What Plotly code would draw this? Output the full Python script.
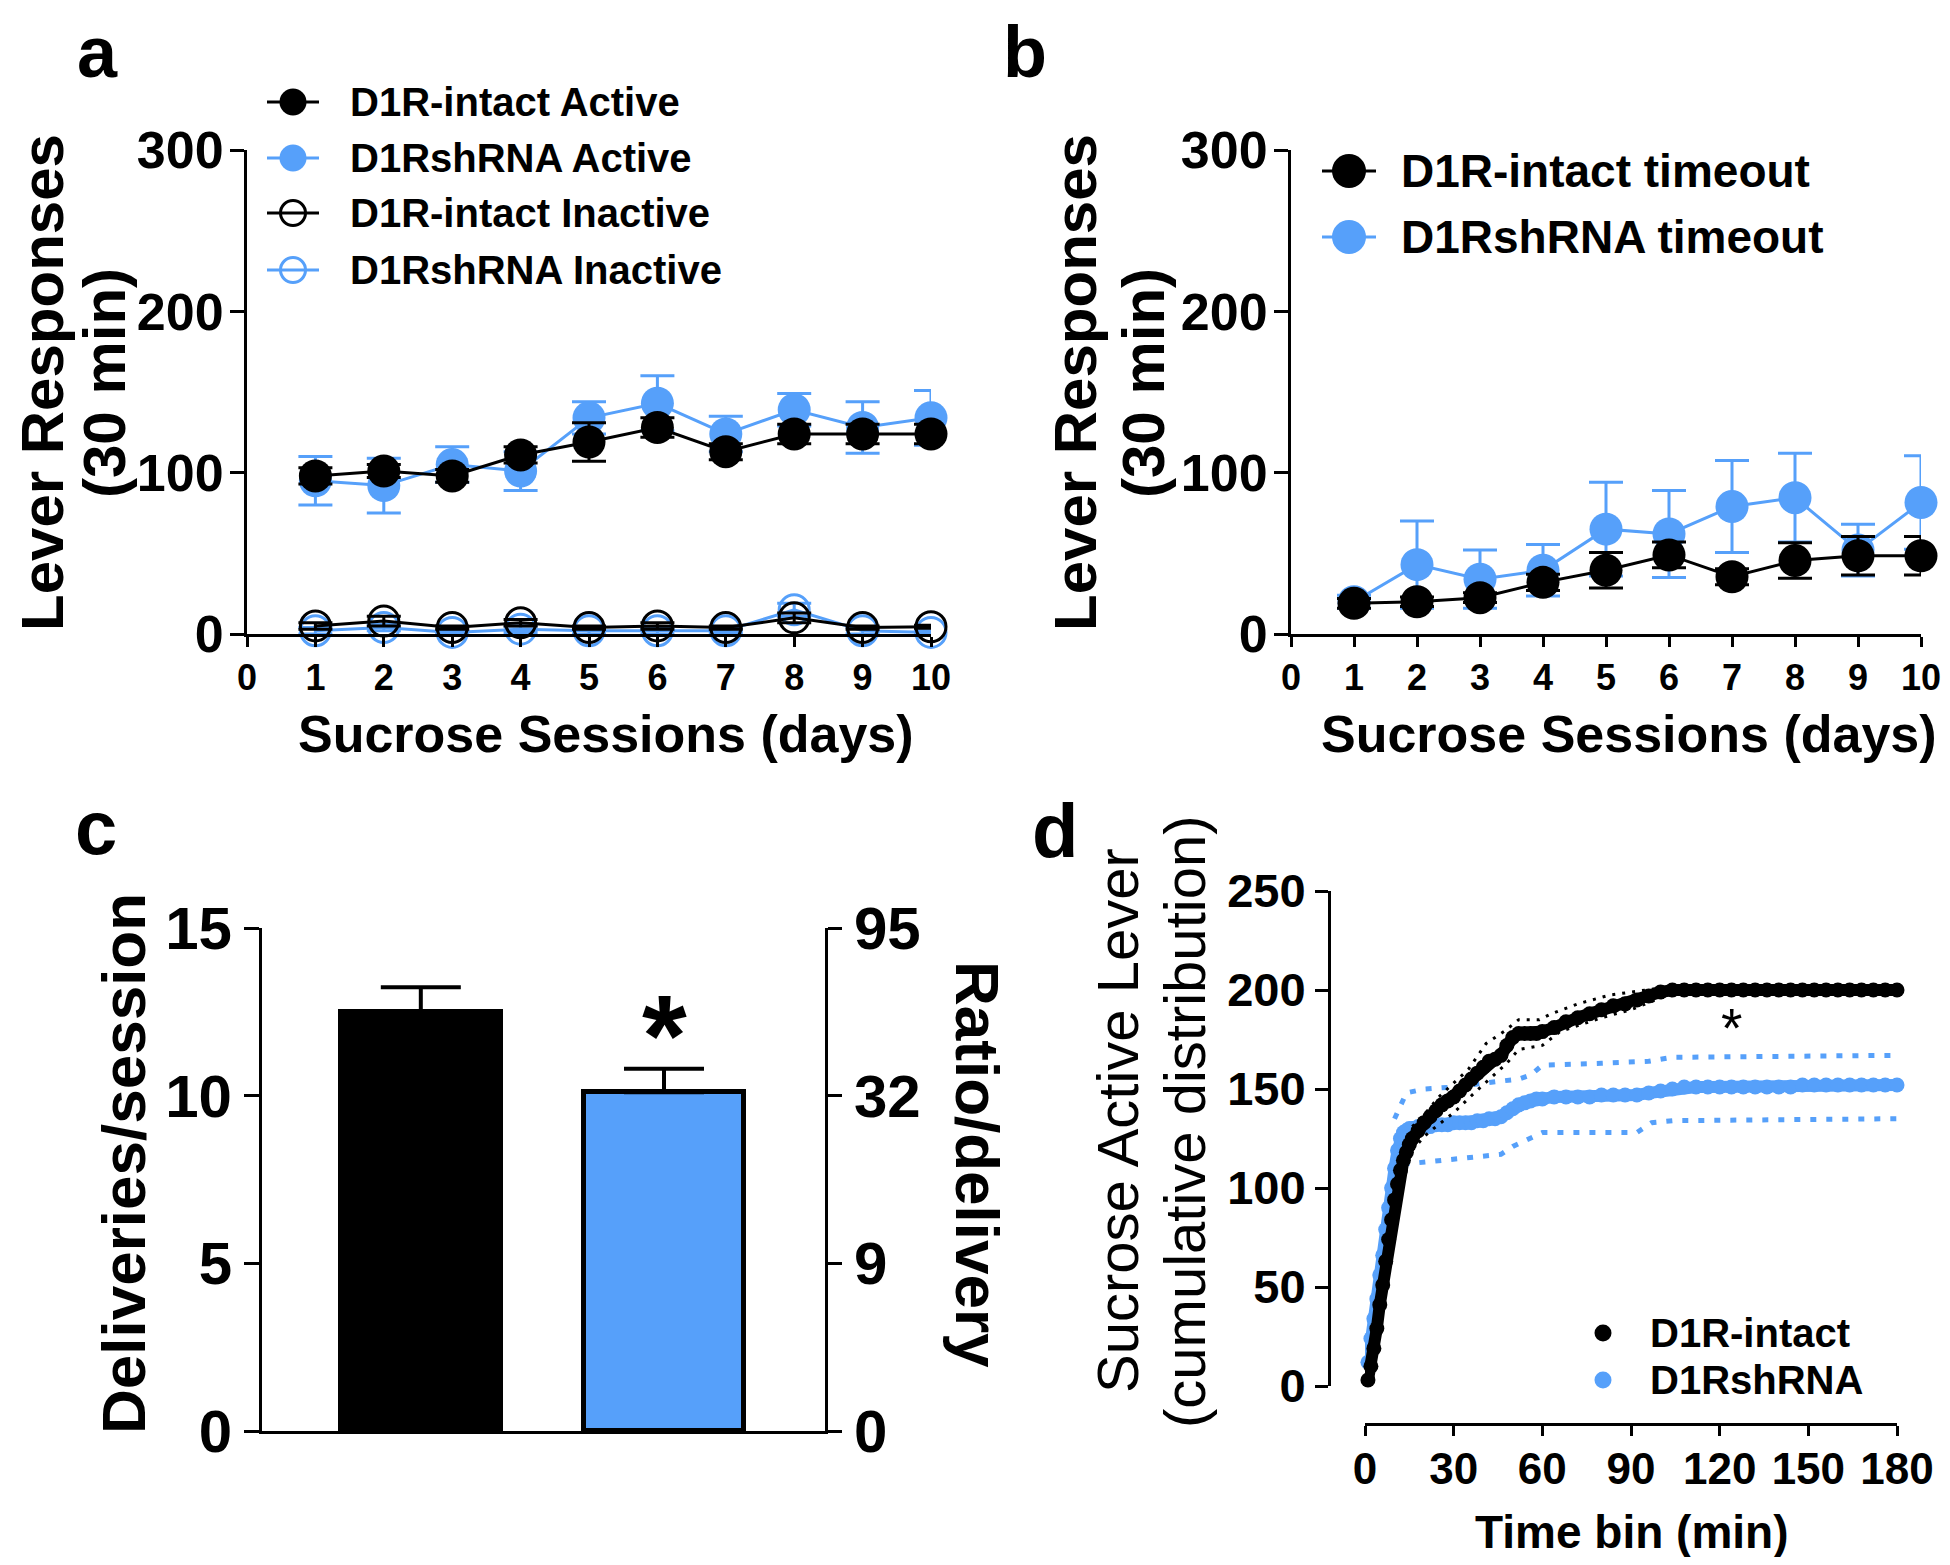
import plotly.graph_objects as go

PAGE_W, PAGE_H = 1950, 1565
OFF = 8  # the page body adds an 8px margin around the figure
W, H = PAGE_W - 2 * OFF, PAGE_H - 2 * OFF
BLUE = '#56A0FA'
FONT = 'Liberation Sans, Arial, sans-serif'

# ---- panel a: sucrose sessions, active / inactive lever presses
days = [1, 2, 3, 4, 5, 6, 7, 8, 9, 10]
intact_active = [98, 101, 98, 111, 119, 128, 113, 124, 124, 124]
intact_active_sem = [5, 4, 4, 5, 12, 6, 5, 6, 6, 6]
shrna_active = [95, 92, 105, 101, 134, 143, 124, 139, 128, 134]
shrna_active_sem = [15, 17, 11, 12, 10, 17, 11, 10, 16, 17]
intact_inactive = [5, 8, 4, 7, 4, 5, 4, 10, 4, 4.5]
intact_inactive_sem = [2, 3, 1, 2, 1, 2, 1, 3, 1, 1]
shrna_inactive = [2, 4, 1, 3, 2, 2, 2, 15, 2, 1]
shrna_inactive_sem = [2, 2, 1, 2, 2, 2, 1, 4, 2, 1]

# ---- panel b: timeout responses
intact_timeout = [19, 20, 22.5, 32, 39.5, 49, 35.5, 45.5, 48.5, 48.5]
intact_timeout_sem = [3, 3, 3, 5, 11, 8, 5, 11, 12, 12]
shrna_timeout = [20, 43, 34, 39.5, 65, 62, 79, 84.5, 52, 81.5]
shrna_timeout_sem = [4, 27, 18, 16, 29, 27, 28.5, 27.5, 16, 29]

# ---- panel c: deliveries per session
groups = ['D1R-intact', 'D1RshRNA']
deliveries = [12.5, 10.1]
deliveries_sem = [0.73, 0.7]
ratio_tickvals = [0, 5, 10, 15]
ratio_ticktext = ['0', '9', '32', '95']

# ---- panel d: cumulative active lever presses
time_bins = [1, 2, 3, 4, 5, 6, 7, 8, 9, 10, 11, 12, 13, 14, 15, 16,
             18, 20, 22, 24, 26, 28, 30, 32, 34, 36, 38, 40, 42, 44, 46, 48, 50, 52, 54, 56, 58, 60,
             64, 68, 72, 76, 80, 84, 88, 92, 96, 100, 104, 108, 112, 116, 120, 124, 128, 132, 136,
             140, 144, 148, 152, 156, 160, 164, 168, 172, 176, 180]
intact_cum = [3, 10, 19, 29, 41, 51, 63, 74, 84, 94, 102, 109, 114, 118, 122, 125,
              129, 133, 136, 139, 142, 144, 146, 149, 152, 155, 158, 161, 164, 165, 167, 172, 176, 178,
              178, 178, 178, 179,
              181, 184, 186, 188, 190, 192, 193, 195, 197, 199, 200, 200, 200, 200, 200, 200, 200, 200,
              200, 200, 200, 200, 200, 200, 200, 200, 200, 200, 200, 200]
shrna_cum = [12, 24, 34, 44, 56, 66, 79, 90, 100, 110, 119, 125, 128, 129, 130, 130,
             131, 131, 131, 132, 132, 132, 133, 133, 133, 133, 134, 134, 135, 135, 136, 138, 140, 142,
             143, 144, 145, 145,
             146, 146, 146, 146, 147, 147, 147, 147, 148, 149, 150, 151, 151, 151, 151, 151, 151, 151,
             151, 151, 151, 152, 152, 152, 152, 152, 152, 152, 152, 152]
intact_hi_t = [16, 20, 25, 30, 35, 41, 47, 52, 59, 63, 72, 83, 90, 100, 106]
intact_hi = [131, 137, 146, 153, 160, 173, 179, 185, 185, 188, 193, 197.5, 199, 201, 201]
intact_lo_t = [16, 20, 24, 30, 37, 43, 48, 52, 60, 66, 72, 80, 90, 100, 110]
intact_lo = [119, 126, 131, 138, 148, 156, 163, 170, 172, 179, 182, 186, 190, 196, 199]
shrna_hi_t = [10, 12, 14, 20, 30, 46, 52, 56, 60, 80, 96, 104, 180]
shrna_hi = [135, 141, 148, 150, 151, 154, 155, 157, 162, 163, 164, 166, 167]
shrna_lo_t = [13, 20, 31, 46, 50, 56, 60, 92, 97, 104, 180]
shrna_lo = [112, 113, 115, 117, 121, 125, 128, 128, 133, 134, 135]


# page pixel -> paper fraction
def X(px):
    return (px - OFF) / W


def Y(py):
    return 1 - (py - OFF) / H


def font(size, bold=True):
    return dict(family=FONT, size=size, color='black', weight='bold' if bold else 'normal')


def axis(size, ticklen, **kw):
    d = dict(showline=True, linecolor='black', linewidth=3, ticks='outside', tickcolor='black',
             tickwidth=3, ticklen=ticklen, showgrid=False, zeroline=False, automargin=False,
             tickfont=font(size))
    d.update(kw)
    return d


def label(text, x, y, size, angle=0, bold=True, xanchor='center'):
    return dict(text=text, x=X(x), y=Y(y), xref='paper', yref='paper', showarrow=False,
                textangle=angle, font=font(size, bold), xanchor=xanchor, yanchor='middle')


def legend_item(cx, cy, r, seg, color, filled=True, lw=3):
    out = []
    if seg:
        out.append(dict(type='line', xref='paper', yref='paper', x0=X(cx - seg), x1=X(cx + seg),
                        y0=Y(cy), y1=Y(cy), line=dict(color=color, width=lw)))
    out.append(dict(type='circle', xref='paper', yref='paper', xsizemode='pixel', ysizemode='pixel',
                    xanchor=X(cx), yanchor=Y(cy), x0=-r, x1=r, y0=-r, y1=r,
                    fillcolor=color if filled else 'rgba(0,0,0,0)',
                    line=dict(color=color, width=0 if filled else lw)))
    return out


def line_trace(y, err, color, xa, ya, open_marker=False):
    return go.Scatter(
        x=days, y=y, xaxis=xa, yaxis=ya, mode='lines+markers', cliponaxis=False, showlegend=False,
        line=dict(color=color, width=3),
        marker=dict(symbol='circle-open' if open_marker else 'circle', size=30 if open_marker else 33,
                    color=color, line=dict(color=color, width=3 if open_marker else 0)),
        error_y=dict(type='data', array=err, color=color, thickness=3, width=17),
    )


fig = go.Figure()

# panel a
fig.add_trace(line_trace(shrna_active, shrna_active_sem, BLUE, 'x', 'y'))
fig.add_trace(line_trace(intact_active, intact_active_sem, 'black', 'x', 'y'))
fig.add_trace(line_trace(shrna_inactive, shrna_inactive_sem, BLUE, 'x', 'y', open_marker=True))
fig.add_trace(line_trace(intact_inactive, intact_inactive_sem, 'black', 'x', 'y', open_marker=True))

# panel b
fig.add_trace(line_trace(shrna_timeout, shrna_timeout_sem, BLUE, 'x2', 'y2'))
fig.add_trace(line_trace(intact_timeout, intact_timeout_sem, 'black', 'x2', 'y2'))

# panel c
fig.add_trace(go.Bar(
    x=groups, y=deliveries, xaxis='x3', yaxis='y3', width=0.66, showlegend=False,
    marker=dict(color=['black', BLUE], line=dict(color='black', width=5)),
    error_y=dict(type='data', array=deliveries_sem, arrayminus=[0, 0], symmetric=False,
                 color='black', thickness=4, width=40),
))
# invisible trace so the right-hand ratio axis gets drawn
fig.add_trace(go.Scatter(x=groups, y=deliveries, xaxis='x3', yaxis='y4', mode='markers',
                         marker=dict(opacity=0), hoverinfo='skip', showlegend=False))

# panel d
dotted_blue = '6px,10px'
fig.add_trace(go.Scatter(x=shrna_hi_t, y=shrna_hi, xaxis='x4', yaxis='y5', mode='lines', showlegend=False,
                         line=dict(color=BLUE, width=5, dash=dotted_blue)))
fig.add_trace(go.Scatter(x=shrna_lo_t, y=shrna_lo, xaxis='x4', yaxis='y5', mode='lines', showlegend=False,
                         line=dict(color=BLUE, width=5, dash=dotted_blue)))
fig.add_trace(go.Scatter(x=time_bins, y=shrna_cum, xaxis='x4', yaxis='y5', mode='lines+markers',
                         cliponaxis=False, showlegend=False, line=dict(color=BLUE, width=12),
                         marker=dict(color=BLUE, size=15)))
fig.add_trace(go.Scatter(x=time_bins, y=intact_cum, xaxis='x4', yaxis='y5', mode='lines+markers',
                         cliponaxis=False, showlegend=False, line=dict(color='black', width=12),
                         marker=dict(color='black', size=15)))
fig.add_trace(go.Scatter(x=intact_hi_t, y=intact_hi, xaxis='x4', yaxis='y5', mode='lines', showlegend=False,
                         line=dict(color='black', width=3, dash='3px,7px')))
fig.add_trace(go.Scatter(x=intact_lo_t, y=intact_lo, xaxis='x4', yaxis='y5', mode='lines', showlegend=False,
                         line=dict(color='black', width=3, dash='3px,7px')))

shapes = []
# legend a
shapes += legend_item(293, 102, 13.5, 26, 'black')
shapes += legend_item(293, 158, 13.5, 26, BLUE)
shapes += legend_item(293, 213, 12.5, 26, 'black', filled=False)
shapes += legend_item(293, 270, 12.5, 26, BLUE, filled=False)
# legend b
shapes += legend_item(1349, 171, 17, 27, 'black')
shapes += legend_item(1349, 237, 17, 27, BLUE)
# legend d
shapes += legend_item(1603, 1333, 8.5, 0, 'black')
shapes += legend_item(1603, 1380, 8.5, 0, BLUE)

annotations = [
    label('a', 97, 52, 72),
    label('b', 1025, 52, 72),
    label('c', 96, 828, 76),
    label('d', 1055, 830, 76),
    # panel a
    label('D1R-intact Active', 348, 102, 40, xanchor='left'),
    label('D1RshRNA Active', 348, 158, 40, xanchor='left'),
    label('D1R-intact Inactive', 348, 213, 40, xanchor='left'),
    label('D1RshRNA Inactive', 348, 270, 40, xanchor='left'),
    label('Lever Responses', 42, 383, 60, angle=-90),
    label('(30 min)', 104, 383, 60, angle=-90),
    label('Sucrose Sessions (days)', 606, 734, 52),
    # panel b
    label('D1R-intact timeout', 1399, 171, 46, xanchor='left'),
    label('D1RshRNA timeout', 1399, 237, 46, xanchor='left'),
    label('Lever Responses', 1075, 383, 60, angle=-90),
    label('(30 min)', 1143, 383, 60, angle=-90),
    label('Sucrose Sessions (days)', 1629, 734, 52),
    # panel c
    label('Deliveries/session', 123, 1164, 62, angle=-90),
    label('Ratio/delivery', 978, 1164, 62, angle=90),
    dict(text='*', x='D1RshRNA', y=11.8, xref='x3', yref='y3', showarrow=False,
         font=font(115), xanchor='center', yanchor='middle'),
    # panel d
    label('Sucrose Active Lever', 1117, 1121, 58, angle=-90, bold=False),
    label('(cumulative distribution)', 1184, 1122, 58, angle=-90, bold=False),
    label('Time bin (min)', 1632, 1532, 46),
    label('D1R-intact', 1648, 1333, 40, xanchor='left'),
    label('D1RshRNA', 1648, 1380, 40, xanchor='left'),
    dict(text='*', x=124, y=181, xref='x4', yref='y5', showarrow=False,
         font=font(55, bold=False), xanchor='center', yanchor='middle'),
]

fig.update_layout(
    width=W, height=H, margin=dict(l=0, r=0, t=0, b=0, pad=0, autoexpand=False),
    paper_bgcolor='white', plot_bgcolor='white', showlegend=False, bargap=0,
    xaxis=axis(36, 10, domain=[X(247), X(931)], range=[0, 10], dtick=1, tick0=0, anchor='y'),
    yaxis=axis(52, 14, domain=[Y(634), Y(150)], range=[0, 300], dtick=100, anchor='x',
               ticklabelstandoff=-4),
    xaxis2=axis(36, 10, domain=[X(1291), X(1921)], range=[0, 10], dtick=1, tick0=0, anchor='y2'),
    yaxis2=axis(52, 14, domain=[Y(634), Y(150)], range=[0, 300], dtick=100, anchor='x2',
                ticklabelstandoff=-4),
    xaxis3=axis(60, 0, domain=[X(262), X(825)], range=[-0.653, 1.662], ticks='',
                showticklabels=False, anchor='y3'),
    yaxis3=axis(60, 15, domain=[Y(1431), Y(928)], range=[0, 15], dtick=5, anchor='x3'),
    yaxis4=axis(60, 14, range=[0, 15], tickvals=ratio_tickvals, ticktext=ratio_ticktext,
                overlaying='y3', side='right', anchor='x3'),
    xaxis4=axis(44, 10, domain=[X(1365), X(1897)], range=[0, 180], dtick=30, anchor='free',
                position=Y(1424), ticklabelstandoff=-5),
    yaxis5=axis(47, 13, domain=[Y(1386), Y(891)], range=[0, 250], dtick=50, anchor='free',
                position=X(1329)),
    shapes=shapes,
    annotations=annotations,
)

fig.write_html('out.html')
